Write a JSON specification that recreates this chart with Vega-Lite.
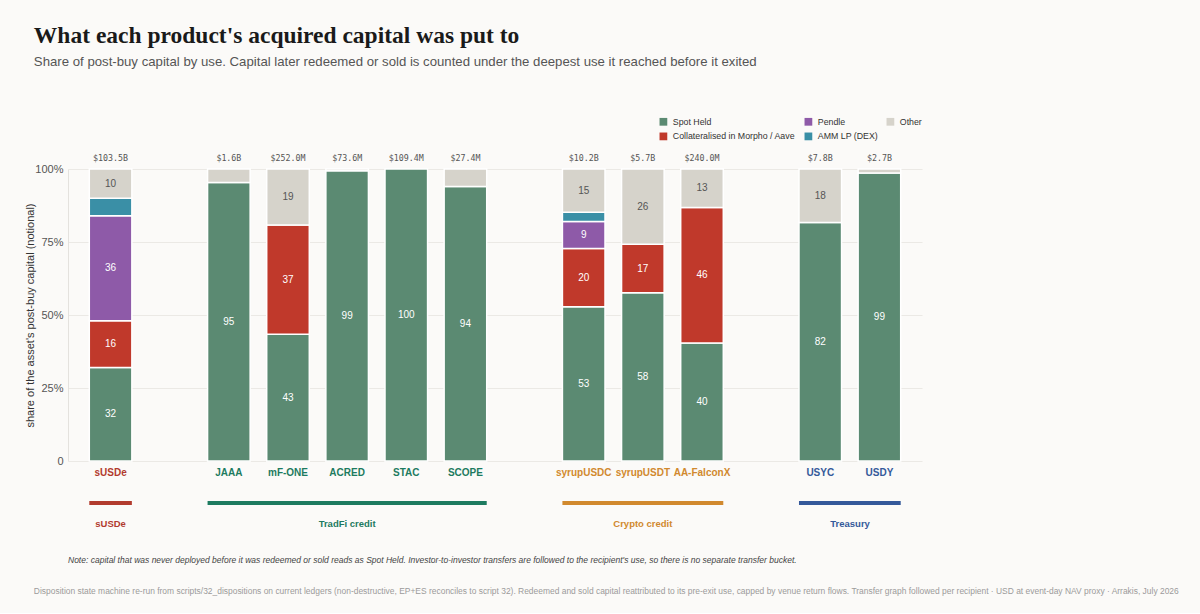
{
  "$schema": "https://vega.github.io/schema/vega-lite/v6.json",
  "background": "#fbfaf8",
  "padding": {"left": 24, "top": 24, "right": 23, "bottom": 18},
  "config": {
    "font": "Liberation Sans",
    "view": {"stroke": null},
    "axis": {"labelFont": "Liberation Sans", "titleFont": "Liberation Sans"}
  },
  "title": {
    "text": "Disposition state machine re-run from scripts/32_dispositions on current ledgers (non-destructive, EP+ES reconciles to script 32). Redeemed and sold capital reattributed to its pre-exit use, capped by venue return flows. Transfer graph followed per recipient · USD at event-day NAV proxy · Arrakis, July 2026",
    "orient": "bottom",
    "anchor": "start",
    "frame": "bounds",
    "font": "Liberation Sans",
    "fontSize": 8.45,
    "fontWeight": "normal",
    "color": "#9b9b9b",
    "offset": 22,
    "dx": 9
  },
  "datasets": {
    "uses": [
      {"product": "sUSDe", "use": "Spot Held", "value": 32},
      {"product": "sUSDe", "use": "Collateralised in Morpho / Aave", "value": 16},
      {"product": "sUSDe", "use": "Pendle", "value": 36},
      {"product": "sUSDe", "use": "AMM LP (DEX)", "value": 6},
      {"product": "sUSDe", "use": "Other", "value": 10},
      {"product": "JAAA", "use": "Spot Held", "value": 95.4},
      {"product": "JAAA", "use": "Other", "value": 4.6},
      {"product": "mF-ONE", "use": "Spot Held", "value": 43.4},
      {"product": "mF-ONE", "use": "Collateralised in Morpho / Aave", "value": 37.4},
      {"product": "mF-ONE", "use": "Other", "value": 19.2},
      {"product": "ACRED", "use": "Spot Held", "value": 99.4},
      {"product": "ACRED", "use": "Other", "value": 0.6},
      {"product": "STAC", "use": "Spot Held", "value": 100},
      {"product": "SCOPE", "use": "Spot Held", "value": 94},
      {"product": "SCOPE", "use": "Other", "value": 6},
      {"product": "syrupUSDC", "use": "Spot Held", "value": 52.8},
      {"product": "syrupUSDC", "use": "Collateralised in Morpho / Aave", "value": 20},
      {"product": "syrupUSDC", "use": "Pendle", "value": 9.2},
      {"product": "syrupUSDC", "use": "AMM LP (DEX)", "value": 3.2},
      {"product": "syrupUSDC", "use": "Other", "value": 14.8},
      {"product": "syrupUSDT", "use": "Spot Held", "value": 57.6},
      {"product": "syrupUSDT", "use": "Collateralised in Morpho / Aave", "value": 16.6},
      {"product": "syrupUSDT", "use": "Other", "value": 25.8},
      {"product": "AA-FalconX", "use": "Spot Held", "value": 40.4},
      {"product": "AA-FalconX", "use": "Collateralised in Morpho / Aave", "value": 46.4},
      {"product": "AA-FalconX", "use": "Other", "value": 13.2},
      {"product": "USYC", "use": "Spot Held", "value": 81.7},
      {"product": "USYC", "use": "Other", "value": 18.3},
      {"product": "USDY", "use": "Spot Held", "value": 98.6},
      {"product": "USDY", "use": "Other", "value": 1.4}
    ],
    "totals": [
      {"product": "sUSDe", "total": "$103.5B"},
      {"product": "JAAA", "total": "$1.6B"},
      {"product": "mF-ONE", "total": "$252.0M"},
      {"product": "ACRED", "total": "$73.6M"},
      {"product": "STAC", "total": "$109.4M"},
      {"product": "SCOPE", "total": "$27.4M"},
      {"product": "syrupUSDC", "total": "$10.2B"},
      {"product": "syrupUSDT", "total": "$5.7B"},
      {"product": "AA-FalconX", "total": "$240.0M"},
      {"product": "USYC", "total": "$7.8B"},
      {"product": "USDY", "total": "$2.7B"}
    ],
    "groups": [
      {"group": "sUSDe", "first": "sUSDe", "last": "sUSDe", "labelAt": "sUSDe"},
      {"group": "TradFi credit", "first": "JAAA", "last": "SCOPE", "labelAt": "ACRED"},
      {"group": "Crypto credit", "first": "syrupUSDC", "last": "AA-FalconX", "labelAt": "syrupUSDT"},
      {"group": "Treasury", "first": "USYC", "last": "USDY", "labelAt": "USYC"}
    ]
  },
  "spacing": 4,
  "resolve": {"scale": {"x": "shared", "color": "independent"}, "legend": {"color": "independent"}},
  "vconcat": [
    {
      "title": {
        "text": "What each product's acquired capital was put to",
        "subtitle": "Share of post-buy capital by use. Capital later redeemed or sold is counted under the deepest use it reached before it exited",
        "anchor": "start",
        "frame": "bounds",
        "font": "Liberation Serif",
        "fontSize": 23.5,
        "fontWeight": "bold",
        "color": "#1a1a1a",
        "subtitleFont": "Liberation Sans",
        "subtitleFontSize": 13.2,
        "subtitleColor": "#555555",
        "subtitlePadding": 8,
        "offset": 49,
        "dx": 9
      },
      "width": 854,
      "height": 292,
      "layer": [
        {
          "data": {"name": "uses"},
          "transform": [
            {"calculate": "indexof(['Spot Held','Collateralised in Morpho / Aave','Pendle','AMM LP (DEX)','Other'], datum.use)", "as": "ord"},
            {"stack": "value", "groupby": ["product"], "sort": [{"field": "ord", "order": "ascending"}], "as": ["v0", "v1"]}
          ],
          "mark": {"type": "bar", "stroke": "white", "strokeWidth": 1.5},
          "encoding": {
            "x": {
              "field": "product",
              "type": "nominal",
              "title": null,
              "scale": {
                "domain": ["sUSDe", "gap1", "JAAA", "mF-ONE", "ACRED", "STAC", "SCOPE", "gap2", "syrupUSDC", "syrupUSDT", "AA-FalconX", "gap3", "USYC", "USDY"],
                "paddingInner": 0.28,
                "paddingOuter": 0.36
              },
              "axis": {
                "labelExpr": "indexof(datum.value, 'gap') == 0 ? '' : datum.value",
                "labelAngle": 0,
                "labelFontSize": 10,
                "labelFontWeight": "bold",
                "labelColor": {"expr": "datum.value == 'sUSDe' ? '#b23b2e' : (indexof(['JAAA','mF-ONE','ACRED','STAC','SCOPE'], datum.value) >= 0 ? '#1d7b60' : (indexof(['syrupUSDC','syrupUSDT','AA-FalconX'], datum.value) >= 0 ? '#d1892e' : '#34599a'))"},
                "ticks": false,
                "domain": false,
                "grid": false,
                "labelPadding": 6
              }
            },
            "y": {
              "field": "v0",
              "type": "quantitative",
              "title": "share of the asset's post-buy capital (notional)",
              "scale": {"domain": [0, 100], "nice": false},
              "axis": {
                "values": [0, 25, 50, 75, 100],
                "labelExpr": "datum.value == 0 ? '0' : datum.value + '%'",
                "ticks": false,
                "domainColor": "#e4e2de",
                "gridColor": "#ebe9e5",
                "labelColor": "#555555",
                "labelFontSize": 11,
                "labelPadding": 5,
                "titleFontSize": 11,
                "titleFontWeight": "normal",
                "titleColor": "#333333",
                "titlePadding": -1
              }
            },
            "y2": {"field": "v1"},
            "color": {
              "field": "use",
              "type": "nominal",
              "scale": {
                "domain": ["Spot Held", "Collateralised in Morpho / Aave", "Pendle", "AMM LP (DEX)", "Other"],
                "range": ["#5b8a72", "#c0392b", "#8e5aa8", "#3a8fa6", "#d6d3cb"]
              },
              "legend": {
                "title": null,
                "orient": "none",
                "legendX": 591,
                "legendY": -52,
                "columns": 3,
                "symbolType": "square",
                "symbolSize": 60,
                "symbolStrokeWidth": 0,
                "labelFontSize": 8.8,
                "labelColor": "#333333",
                "labelOffset": 5,
                "columnPadding": 8,
                "rowPadding": 5
              }
            }
          }
        },
        {
          "data": {"name": "uses"},
          "transform": [
            {"calculate": "indexof(['Spot Held','Collateralised in Morpho / Aave','Pendle','AMM LP (DEX)','Other'], datum.use)", "as": "ord"},
            {"stack": "value", "groupby": ["product"], "sort": [{"field": "ord", "order": "ascending"}], "as": ["v0", "v1"]},
            {"filter": "datum.value >= 8"},
            {"calculate": "(datum.v0 + datum.v1) / 2", "as": "mid"}
          ],
          "mark": {"type": "text", "fontSize": 10, "font": "Liberation Sans", "baseline": "middle"},
          "encoding": {
            "x": {"field": "product", "type": "nominal"},
            "y": {"field": "mid", "type": "quantitative"},
            "text": {"field": "value", "type": "quantitative", "format": ".0f"},
            "color": {"condition": {"test": "datum.use == 'Other'", "value": "#555555"}, "value": "#ffffff"}
          }
        },
        {
          "data": {"name": "totals"},
          "mark": {"type": "text", "font": "DejaVu Sans Mono", "fontSize": 8.3, "color": "#555555", "baseline": "bottom", "dy": -6},
          "encoding": {
            "x": {"field": "product", "type": "nominal"},
            "y": {"datum": 100, "type": "quantitative"},
            "text": {"field": "total"}
          }
        }
      ]
    },
    {
      "width": 854,
      "height": 50,
      "title": {
        "text": "Note: capital that was never deployed before it was redeemed or sold reads as Spot Held. Investor-to-investor transfers are followed to the recipient's use, so there is no separate transfer bucket.",
        "orient": "bottom",
        "anchor": "start",
        "frame": "group",
        "font": "Liberation Sans",
        "fontSize": 8.5,
        "fontStyle": "italic",
        "fontWeight": "normal",
        "color": "#444444",
        "offset": 25
      },
      "data": {"name": "groups"},
      "layer": [
        {
          "mark": {"type": "rule", "strokeWidth": 4},
          "encoding": {
            "x": {
              "field": "first",
              "type": "nominal",
              "bandPosition": 0,
              "scale": {
                "domain": ["sUSDe", "gap1", "JAAA", "mF-ONE", "ACRED", "STAC", "SCOPE", "gap2", "syrupUSDC", "syrupUSDT", "AA-FalconX", "gap3", "USYC", "USDY"],
                "paddingInner": 0.28,
                "paddingOuter": 0.36
              },
              "axis": null
            },
            "x2": {"field": "last", "bandPosition": 1},
            "y": {"datum": 0.56, "type": "quantitative", "scale": {"domain": [0, 1]}, "axis": null},
            "color": {
              "field": "group",
              "type": "nominal",
              "scale": {"domain": ["sUSDe", "TradFi credit", "Crypto credit", "Treasury"], "range": ["#b23b2e", "#1d7b60", "#d1892e", "#34599a"]},
              "legend": null
            }
          }
        },
        {
          "transform": [{"filter": "datum.group != 'Treasury'"}],
          "mark": {"type": "text", "fontSize": 9.5, "fontWeight": "bold", "baseline": "middle"},
          "encoding": {
            "x": {"field": "labelAt", "type": "nominal"},
            "y": {"datum": 0.14, "type": "quantitative"},
            "text": {"field": "group"},
            "color": {"field": "group", "type": "nominal", "legend": null}
          }
        },
        {
          "transform": [{"filter": "datum.group == 'Treasury'"}],
          "mark": {"type": "text", "fontSize": 9.5, "fontWeight": "bold", "baseline": "middle"},
          "encoding": {
            "x": {"field": "labelAt", "type": "nominal", "bandPosition": 1.2},
            "y": {"datum": 0.14, "type": "quantitative"},
            "text": {"field": "group"},
            "color": {"field": "group", "type": "nominal", "legend": null}
          }
        }
      ]
    }
  ]
}
